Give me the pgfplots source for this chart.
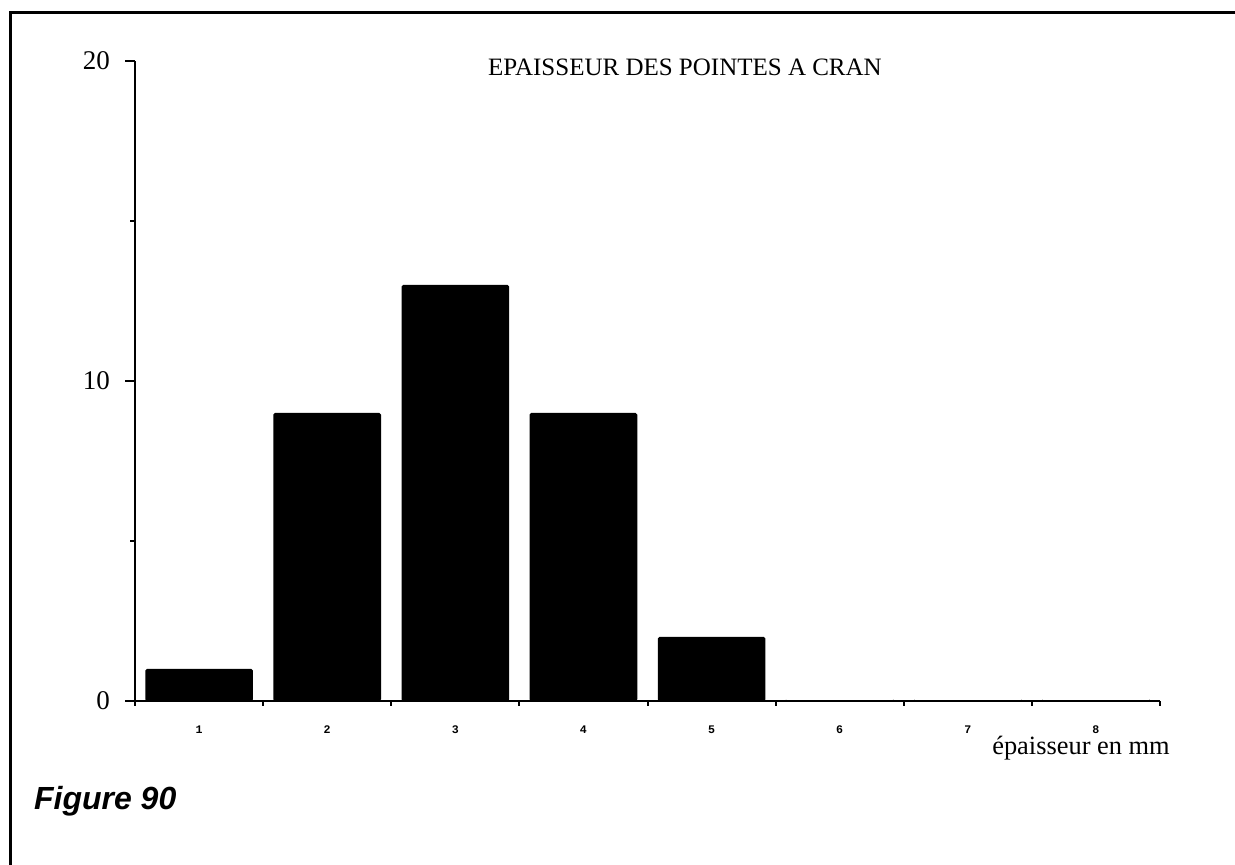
\documentclass[border=0pt]{standalone}
\usepackage{pgfplots}
\pgfplotsset{compat=1.18}
\usepackage{fontspec}
\setmainfont{Liberation Serif}
\newfontfamily\monob{Liberation Mono}
\newfontfamily\sansf{Liberation Sans}
\begin{document}
\begin{tikzpicture}[x=1pt,y=1pt]
\path[use as bounding box] (0,0) rectangle (617.5,432.5);
% frame (left and top edges)
\draw[line width=1.5pt] (5,0) -- (5,426) -- (617.5,426);
\begin{axis}[
  at={(67.5pt,82pt)}, anchor=south west,
  scale only axis, width=512.5pt, height=320pt,
  xmin=0.5, xmax=8.5, ymin=0, ymax=20,
  axis x line=bottom, axis y line=left,
  axis line style={-, line width=1.3pt},
  tick align=outside,
  xtick={1,2,3,4,5,6,7,8},
  minor xtick={0.5,1.5,...,8.5},
  ytick={0,10,20},
  minor ytick={5,15},
  major tick length=5pt,
  minor tick length=2.5pt,
  tick style={line width=1pt, black},
  major x tick style={draw=none},
  xticklabel style={font=\monob\bfseries\fontsize{5.8}{6}\selectfont, yshift=-4pt},
  yticklabel style={font=\fontsize{13.5}{15}\selectfont, xshift=-4pt},
  /pgf/number format/assume math mode=true,
  clip=false,
]
\addplot[ybar, bar width=0.84, fill=black, draw=none, rounded corners=0.8pt] coordinates {
  (1,1) (2,9) (3,13) (4,9) (5,2) (6,0) (7,0) (8,0)
};
\end{axis}
\node[font=\fontsize{12.5}{15}\selectfont] at (342.5,399) {EPAISSEUR DES POINTES A CRAN};
\node[font=\fontsize{13.2}{15}\selectfont] at (540.5,58.5) {épaisseur en mm};
\node[anchor=base west, font=\sansf\bfseries\itshape\fontsize{16}{19}\selectfont] at (13.5,27.5) {Figure 90};
\end{tikzpicture}
\end{document}
